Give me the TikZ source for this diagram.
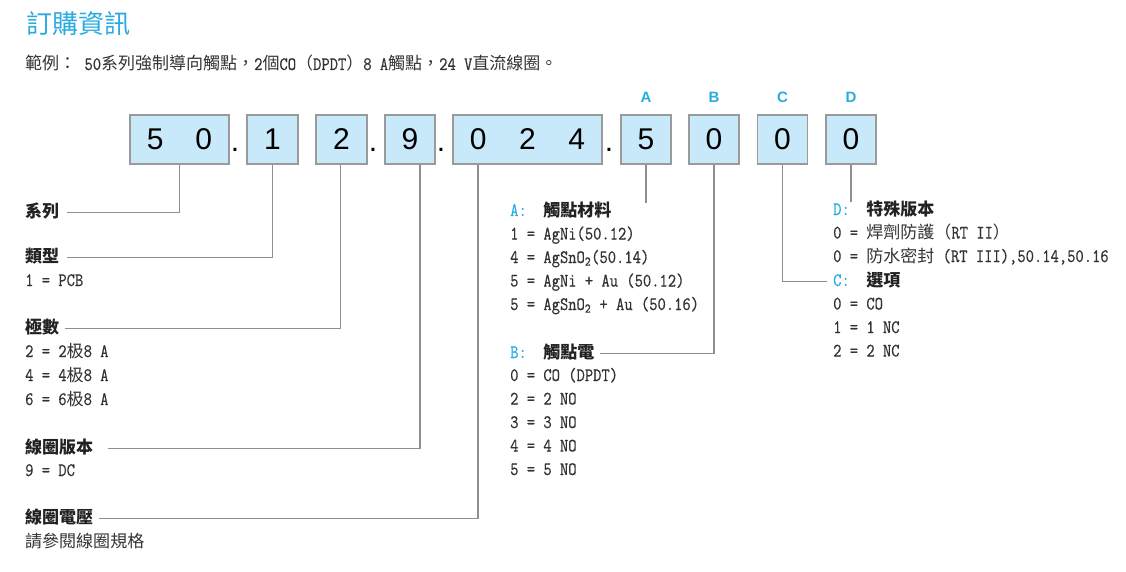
\documentclass[tikz,border=0pt]{standalone}
\usepackage{fontspec}
\setmainfont{Liberation Serif}
\setmonofont{Latin Modern Mono}[Scale=1.17, FakeStretch=0.85, FakeBold=0.5]
\newfontfamily\zh{Noto Sans CJK TC}[Scale=1.05]
\newfontfamily\zhtitle{Noto Sans CJK TC}
\newfontfamily\dg{Liberation Sans}
\definecolor{tblue}{HTML}{29ABE2}
\definecolor{boxfill}{HTML}{C8E9FA}
\definecolor{boxline}{HTML}{9A9A9A}
\definecolor{connc}{HTML}{8E8E8E}
\definecolor{txtc}{HTML}{333333}
\definecolor{labc}{HTML}{222222}
\newcommand\hd[2]{{\color{tblue}#1}\ \ {\zh\bfseries #2}}
\tikzset{
  digbox/.style={draw=boxline, line width=1.4pt, fill=boxfill, minimum height=49pt, minimum width=50pt, inner sep=0pt, font=\dg\fontsize{30}{30}\selectfont, text=black},
  conn/.style={draw=connc, line width=1.2pt},
  txt/.style={anchor=base west, inner sep=0pt, text height=12pt, text depth=3pt, font=\ttfamily\fontsize{16.2}{18}\selectfont, text=txtc},
  lab/.style={txt, text=labc},
  letter/.style={font=\dg\bfseries\fontsize{15}{15}\selectfont, text=tblue, inner sep=0pt},
  dotn/.style={font=\dg\fontsize{30}{30}\selectfont, anchor=base, inner sep=0pt, text=black},
}
\begin{document}
\begin{tikzpicture}[x=1pt,y=-1pt]
\useasboundingbox (0,0) rectangle (1126,572);
% title
\node[anchor=base west, inner sep=0pt, text=tblue, font=\zhtitle\fontsize{26}{28}\selectfont] (title) at (26,33.5) {訂購資訊};
\node[txt] (ex) at (25,70) {{\zh 範例：} 50{\zh 系列強制導向觸點，}2{\zh 個}CO{\zh （}DPDT{\zh ）}8 A{\zh 觸點，}24 V{\zh 直流線圈。}};
% boxes
\node[digbox, minimum width=99pt] (b50) at (179.5,139.5) {\raisebox{-1.5pt}{5\hspace{32pt}0}};
\node[digbox, minimum width=51pt] (b1) at (272.5,139.5) {\raisebox{-1.5pt}{1}};
\node[digbox, minimum width=51pt] (b2) at (341.5,139.5) {\raisebox{-1.5pt}{2}};
\node[digbox] (b9) at (410,139.5) {\raisebox{-1.5pt}{9}};
\node[digbox, minimum width=149pt] (b024) at (527.5,139.5) {\raisebox{-1.5pt}{0\hspace{32.5pt}2\hspace{32.5pt}4}};
\node[digbox] (b5) at (646,139.5) {\raisebox{-1.5pt}{5}};
\node[digbox] (bB) at (714,139.5) {\raisebox{-1.5pt}{0}};
\node[digbox] (bC) at (782.5,139.5) {\raisebox{-1.5pt}{0}};
\node[digbox] (bD) at (851,139.5) {\raisebox{-1.5pt}{0}};
% dots
\node[dotn] (d1) at (235,152) {.};
\node[dotn] (d2) at (373,152) {.};
\node[dotn] (d3) at (441,152) {.};
\node[dotn] (d4) at (609,152) {.};
% letters
\node[letter] (la) at (646,97) {A};
\node[letter] (lb) at (714,97) {B};
\node[letter] (lc) at (782.5,97) {C};
\node[letter] (ld) at (851,97) {D};
% left column
\node[lab] (lser) at (25,217) {\zh\bfseries 系列};
\node[lab] (ltyp) at (25,262) {\zh\bfseries 類型};
\node[txt] (t1) at (25,286) {1 = PCB};
\node[lab] (lpol) at (25,333) {\zh\bfseries 極數};
\node[txt] (p2) at (25,357) {2 = 2{\zh 极}8 A};
\node[txt] (p4) at (25,381) {4 = 4{\zh 极}8 A};
\node[txt] (p6) at (25,405) {6 = 6{\zh 极}8 A};
\node[lab] (lcv) at (25,453) {\zh\bfseries 線圈版本};
\node[txt] (v9) at (25,476) {9 = DC};
\node[lab] (lcu) at (25,523) {\zh\bfseries 線圈電壓};
\node[txt] (cu) at (25,547) {\zh 請參閱線圈規格};
% middle column
\node[lab] (lA) at (510,216) {\hd{A:}{觸點材料}};
\node[txt] (a1) at (510,239.5) {1 = AgNi(50.12)};
\node[txt] (a2) at (510,263) {4 = AgSnO\textsubscript{2}(50.14)};
\node[txt] (a3) at (510,286.5) {5 = AgNi + Au (50.12)};
\node[txt] (a4) at (510,310) {5 = AgSnO\textsubscript{2} + Au (50.16)};
\node[lab] (lB) at (510,358) {\hd{B:}{觸點電}};
\node[txt] (bb0) at (510,381) {0 = CO (DPDT)};
\node[txt] (bb2) at (510,404.5) {2 = 2 NO};
\node[txt] (bb3) at (510,428) {3 = 3 NO};
\node[txt] (bb4) at (510,451.5) {4 = 4 NO};
\node[txt] (bb5) at (510,475) {5 = 5 NO};
% right column
\node[lab] (lD) at (833,215) {\hd{D:}{特殊版本}};
\node[txt] (dd1) at (833,238.5) {0 = {\zh 焊劑防護（}RT II{\zh ）}};
\node[txt] (dd2) at (833,262) {0 = {\zh 防水密封} (RT III),50.14,50.16};
\node[lab] (lC) at (833,286) {\hd{C:}{選項}};
\node[txt] (cc0) at (833,309.5) {0 = CO};
\node[txt] (cc1) at (833,333) {1 = 1 NC};
\node[txt] (cc2) at (833,356.5) {2 = 2 NC};
% connectors
\coordinate (aend) at (646,203);
\coordinate (dend) at (851,202);
\draw[conn] (b50.south) |- ([xshift=8pt]lser.east);
\draw[conn] (b1.south) |- ([xshift=8pt]ltyp.east);
\draw[conn] ([xshift=-1pt]b2.south) |- ([xshift=6pt]lpol.east);
\draw[conn] ([xshift=10pt]b9.south) |- ([xshift=15pt]lcv.east);
\draw[conn] ([xshift=-49.5pt]b024.south) |- ([xshift=6pt]lcu.east);
\draw[conn] (b5.south) -- (aend);
\draw[conn] (bB.south) |- ([xshift=5pt]lB.east);
\draw[conn] (bC.south) |- ([xshift=-6pt]lC.west);
\draw[conn] (bD.south) -- (dend);
\end{tikzpicture}
\end{document}
